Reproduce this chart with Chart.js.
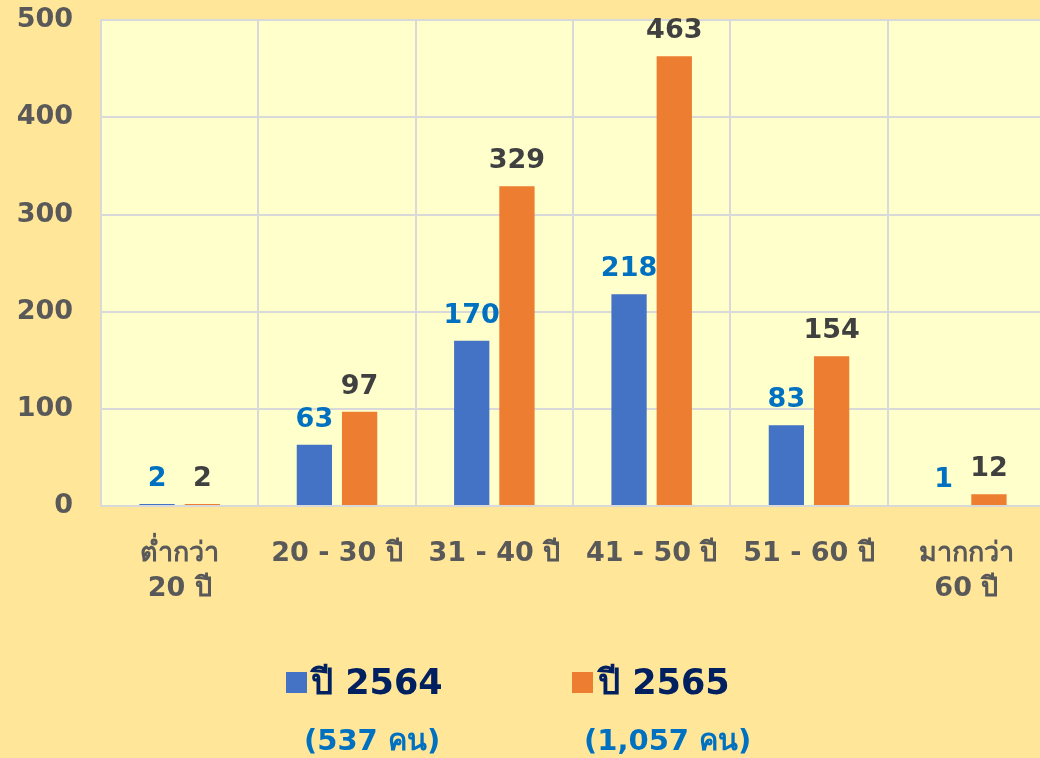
<!DOCTYPE html>
<html>
<head>
<meta charset="utf-8">
<script src="https://cdn.jsdelivr.net/npm/chart.js@4.4.1/dist/chart.umd.min.js"></script>
<style>
  html, body { margin: 0; padding: 0; overflow: hidden; background: #FFE699; }
  #wrap { position: relative; width: 1040px; height: 758px; overflow: hidden; }
  #chart { position: absolute; left: 0; top: -24px; }
  .lg { position: absolute; font-family: "DejaVu Sans", "Noto Sans", sans-serif; font-weight: bold; white-space: nowrap; }
  .sw { position: absolute; width: 21px; height: 21px; }
  .name { color: #002060; font-size: 35px; line-height: 40px; }
  .sub { color: #0070C0; font-size: 29px; line-height: 34px; }
</style>
</head>
<body>
<div id="wrap">
  <canvas id="chart" width="1045" height="782"></canvas>
  <div class="sw" style="left:286px;top:672px;background:#4472C4"></div>
  <div class="lg name" style="left:311px;top:662px">ปี 2564</div>
  <div class="sw" style="left:572px;top:672px;background:#ED7D31"></div>
  <div class="lg name" style="left:598px;top:662px">ปี 2565</div>
  <div class="lg sub" style="left:304px;top:723px">(537 คน)</div>
  <div class="lg sub" style="left:584px;top:723px">(1,057 คน)</div>
</div>
<script>
const ageGroups = [['ต่ำกว่า', '20 ปี'], '20 - 30 ปี', '31 - 40 ปี', '41 - 50 ปี', '51 - 60 ปี', ['มากกว่า', '60 ปี']];
const year2564 = [2, 63, 170, 218, 83, 1];
const year2565 = [2, 97, 329, 463, 154, 12];
const seriesNames = ['ปี 2564', 'ปี 2565'];
const labelColors = ['#0070C0', '#404040'];

const fontFamily = '"DejaVu Sans", "Noto Sans", sans-serif';

const plotBg = {
  id: 'plotBg',
  beforeDraw(chart) {
    const a = chart.chartArea;
    const ctx = chart.ctx;
    ctx.save();
    ctx.fillStyle = '#FFFFCC';
    ctx.fillRect(a.left, a.top, a.right - a.left, a.bottom - a.top);
    ctx.restore();
  }
};

const barValues = {
  id: 'barValues',
  afterDatasetsDraw(chart) {
    const ctx = chart.ctx;
    ctx.save();
    ctx.font = 'bold 27px ' + fontFamily;
    ctx.textAlign = 'center';
    ctx.textBaseline = 'alphabetic';
    chart.data.datasets.forEach((ds, i) => {
      ctx.fillStyle = labelColors[i];
      chart.getDatasetMeta(i).data.forEach((bar, j) => {
        ctx.fillText(ds.data[j], bar.x, bar.y - 18);
      });
    });
    ctx.restore();
  }
};

new Chart(document.getElementById('chart'), {
  type: 'bar',
  data: {
    labels: ageGroups,
    datasets: [
      { label: seriesNames[0], data: year2564, backgroundColor: '#4472C4' },
      { label: seriesNames[1], data: year2565, backgroundColor: '#ED7D31' }
    ]
  },
  options: {
    responsive: false,
    animation: false,
    devicePixelRatio: 1,
    barPercentage: 0.78,
    categoryPercentage: 0.575,
    plugins: {
      legend: { display: false },
      tooltip: { enabled: false }
    },
    scales: {
      x: {
        grid: { color: '#D9D9D9', lineWidth: 2, drawTicks: false },
        border: { color: '#D9D9D9', width: 2 },
        ticks: {
          color: '#595959',
          padding: 30,
          maxRotation: 0,
          autoSkip: false,
          font: { family: fontFamily, size: 27, weight: 'bold', lineHeight: 1.3 }
        },
        afterFit(s) { s.height = 252; }
      },
      y: {
        min: 0,
        max: 500,
        grid: { color: '#D9D9D9', lineWidth: 2, drawTicks: false },
        border: { color: '#D9D9D9', width: 2 },
        ticks: {
          stepSize: 100,
          color: '#595959',
          padding: 28,
          font: { family: fontFamily, size: 27, weight: 'bold' }
        },
        afterFit(s) { s.width = 101; }
      }
    }
  },
  plugins: [plotBg, barValues]
});
</script>
</body>
</html>
